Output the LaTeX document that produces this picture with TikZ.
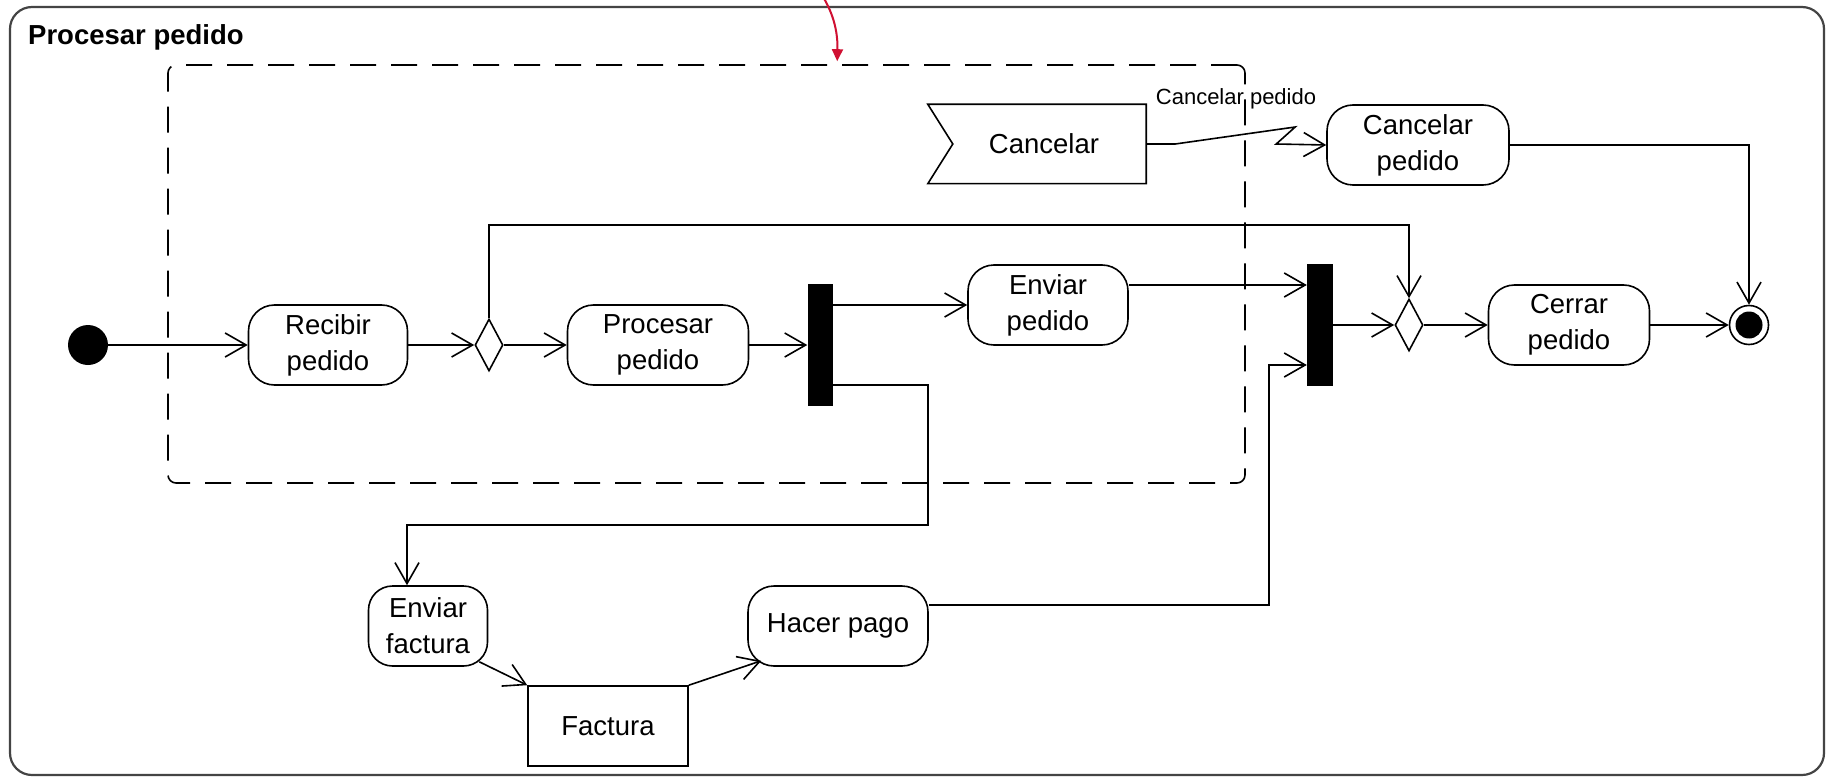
\documentclass[tikz,border=0pt]{standalone}
\usepackage{fontspec}
\setmainfont{Liberation Sans}
\usetikzlibrary{arrows.meta,shapes.geometric,calc}
\definecolor{annot}{RGB}{208,16,50}
\definecolor{framegray}{RGB}{68,68,68}
\newcommand\nfont{\fontsize{27.5}{36}\selectfont}
\newcommand\lfont{\fontsize{22}{26}\selectfont}
\newcommand\tfont{\fontsize{27.5}{30}\selectfont\bfseries}
\begin{document}
\begin{tikzpicture}[x=1pt,y=-1pt,
  >={Straight Barb[length=21pt,width=24pt]},
  flow/.style={draw, line width=1.6pt, line join=miter},
  action/.style={draw, line width=1.6pt, rounded corners=26pt, inner sep=0pt, align=center, font=\nfont, fill=white},
  objbox/.style={draw, line width=1.6pt, inner sep=0pt, align=center, font=\nfont, fill=white},
  bar/.style={fill=black, draw=none, inner sep=0pt, minimum width=25pt, minimum height=122pt},
  decision/.style={diamond, draw, line width=1.6pt, fill=white, inner sep=0pt, aspect=0.54, minimum width=28pt, minimum height=52pt},
  region/.style={draw, line width=1.6pt, dash pattern=on 26pt off 15pt, rounded corners=8pt, inner sep=0pt},
  outerframe/.style={draw=framegray, line width=2.2pt, rounded corners=22pt, inner sep=0pt}
]
\useasboundingbox (0,0) rectangle (1830,778);
\clip (0,0) rectangle (1830,778);
\fill[white] (0,0) rectangle (1830,778);

% frames
\node[outerframe, minimum width=1814pt, minimum height=768pt] (frame) at (917,391) {};
\node[anchor=base west, font=\tfont, inner sep=0pt] (title) at (28,45) {Procesar pedido};
\node[region, minimum width=1077pt, minimum height=418pt] (region) at (706.5,274) {};

% nodes
\node[circle, fill=black, inner sep=0pt, minimum size=40pt] (init) at (88,345) {};
\node[action, minimum width=159pt, minimum height=80pt] (recibir) at (328,345) {Recibir\\pedido};
\node[decision] (dec1) at (489,345) {};
\node[action, minimum width=181pt, minimum height=80pt] (procesar) at (658,345) {Procesar\\pedido};
\node[bar] (fork) at (820,345) {};
\node[action, minimum width=160pt, minimum height=80pt] (enviarp) at (1048,305) {Enviar\\pedido};
\node[inner sep=0pt, minimum width=218pt, minimum height=79pt, font=\nfont] (cancel) at (1037,144) {\hspace{14pt}Cancelar};
\draw[line width=1.6pt, line join=miter] (cancel.north west) -- (cancel.north east) -- (cancel.south east) -- (cancel.south west) -- ($(cancel.west)+(25,0)$) -- cycle;
\node[action, minimum width=182pt, minimum height=80pt] (cpedido) at (1418,145) {Cancelar\\pedido};
\node[bar, minimum width=26pt] (join) at (1320,325) {};
\node[decision] (dec2) at (1409,325) {};
\node[action, minimum width=161pt, minimum height=80pt] (cerrar) at (1569,325) {Cerrar\\pedido};
\node[circle, draw, line width=1.6pt, fill=white, inner sep=0pt, minimum size=39pt] (final) at (1749,325) {};
\fill (final.center) circle[radius=13.5];
\node[action, rounded corners=24pt, minimum width=119pt, minimum height=80pt] (efact) at (428,626) {Enviar\\factura};
\node[objbox, minimum width=160pt, minimum height=80pt] (factura) at (608,726) {Factura};
\node[action, minimum width=180pt, minimum height=80pt] (hpago) at (838,626) {Hacer pago};
\node[font=\lfont, inner sep=0pt] (lbl) at (1236,99) {Cancelar pedido};

% route coordinates
\coordinate (topline) at (900,225);
\coordinate (b1) at (928,525);
\coordinate (b2) at (1269,500);
\coordinate (redtip) at ($(region.north west)+(670,-3)$);

% connectors
\draw[flow,->] (init) -- (recibir);
\draw[flow,->] (recibir) -- (dec1);
\draw[flow,->] (dec1) -- (procesar);
\draw[flow,->] (procesar) -- (fork);
\draw[flow,->] (dec1.north) |- (topline) -| (dec2.north);
\draw[flow,->] (fork.east |- enviarp.west) -- (enviarp.west);
\draw[flow,->] ($(fork.south east)+(0,-21)$) -| (b1) -| ($(efact.north)+(-21,0)$);
\draw[flow,->] ($(enviarp.east)+(0,-20)$) -- ($(join.west)+(0,-40)$);
\draw[flow,->] ($(hpago.east)+(0,-21)$) -| (b2) |- ($(join.west)+(0,40)$);
\draw[flow,->] (join) -- (dec2);
\draw[flow,->] (dec2) -- (cerrar);
\draw[flow,->] (cerrar) -- (final);
\draw[flow,->] (cpedido.east) -| (final.north);
\draw[flow,->] (cancel.east) -- ++(29,0) -- ++(120,-17) -- ++(-19,17) -- (cpedido.west);
\draw[flow,->] ($(efact.south east)+(-9,-5)$) -- (factura.north west);
\draw[flow,->] (factura.north east) -- ($(hpago.south west)+(14,-6)$);

% annotation arrow
\draw[annot, line width=2pt, -{Triangle[length=12pt,width=11pt]}] (814,-16) .. controls (830,4) and (838,26) .. (redtip);
\end{tikzpicture}
\end{document}
